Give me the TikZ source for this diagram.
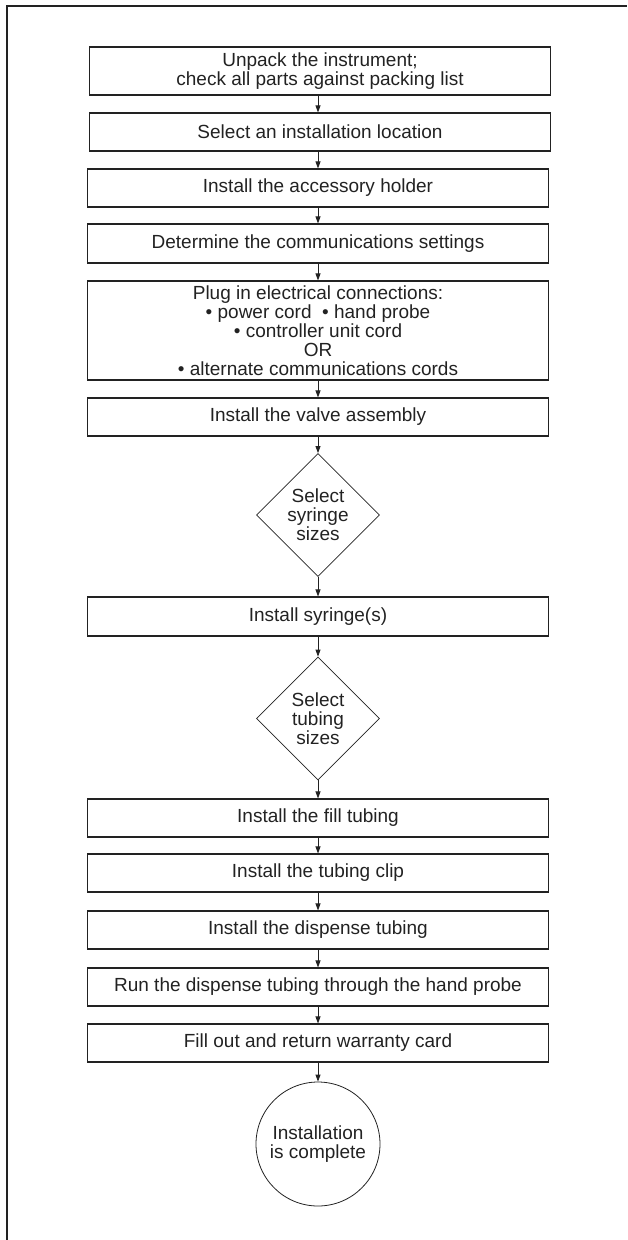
\documentclass[tikz,border=0pt]{standalone}
\usepackage{fontspec}
\setmainfont{Liberation Sans}
\usetikzlibrary{shapes.geometric,arrows.meta}
\definecolor{ink}{HTML}{222222}
\tikzset{
  stepbox/.style={draw=ink, line width=1.1pt, rectangle, minimum width=461pt, inner sep=0pt, align=center, text=ink, font=\fontsize{19}{19}\selectfont},
  choice/.style={draw=ink, line width=0.8pt, diamond, aspect=1, minimum width=123pt, minimum height=123pt, inner sep=0pt, align=center, text=ink, font=\fontsize{19}{19}\selectfont},
  finish/.style={draw=ink, line width=0.8pt, circle, minimum size=124pt, inner sep=0pt, align=center, text=ink, font=\fontsize{19}{19}\selectfont},
  flow/.style={draw=ink, line width=0.8pt, -{Triangle[length=7pt,width=5pt]}},
  frame/.style={draw=ink, line width=1.5pt}
}
\begin{document}
\begin{tikzpicture}[x=1pt,y=-1pt]
\useasboundingbox (0,0) rectangle (627,1240);
\coordinate (fa) at (7,1240);
\coordinate (fb) at (7,6);
\coordinate (fc) at (627,6);
\draw[frame] (fa) -- (fb) -- (fc);

\node[stepbox, minimum height=48pt] (b1) at (320,71) {Unpack the instrument;\\check all parts against packing list};
\node[stepbox, minimum height=38pt] (b2) at (320,132) {Select an installation location};
\node[stepbox, minimum height=38pt] (b3) at (318,188) {Install the accessory holder};
\node[stepbox, minimum height=39pt] (b4) at (318,243.5) {Determine the communications settings};
\node[stepbox, minimum height=99pt] (b5) at (318,330.5) {Plug in electrical connections:\\• power cord\ \ • hand probe\\• controller unit cord\\OR\\• alternate communications cords};
\node[stepbox, minimum height=38pt] (b6) at (318,417) {Install the valve assembly};
\node[choice] (d1) at (318,515) {Select\\syringe\\sizes};
\node[stepbox, minimum height=39pt] (b7) at (318,616.5) {Install syringe(s)};
\node[choice] (d2) at (318,718.5) {Select\\tubing\\sizes};
\node[stepbox, minimum height=38pt] (b8) at (318,818) {Install the fill tubing};
\node[stepbox, minimum height=38pt] (b9) at (318,873) {Install the tubing clip};
\node[stepbox, minimum height=38pt] (b10) at (318,930) {Install the dispense tubing};
\node[stepbox, minimum height=38pt] (b11) at (318,987) {Run the dispense tubing through the hand probe};
\node[stepbox, minimum height=38pt] (b12) at (318,1043) {Fill out and return warranty card};
\node[finish] (end) at (318,1144) {Installation\\is complete};

\draw[flow] (b1.south -| b4.south) -- (b2.north -| b4.north);
\draw[flow] (b2.south -| b4.south) -- (b3.north);
\draw[flow] (b3) -- (b4);
\draw[flow] (b4) -- (b5);
\draw[flow] (b5) -- (b6);
\draw[flow] (b6) -- (d1);
\draw[flow] (d1) -- (b7);
\draw[flow] (b7) -- (d2);
\draw[flow] (d2) -- (b8);
\draw[flow] (b8) -- (b9);
\draw[flow] (b9) -- (b10);
\draw[flow] (b10) -- (b11);
\draw[flow] (b11) -- (b12);
\draw[flow] (b12) -- (end);
\end{tikzpicture}
\end{document}
